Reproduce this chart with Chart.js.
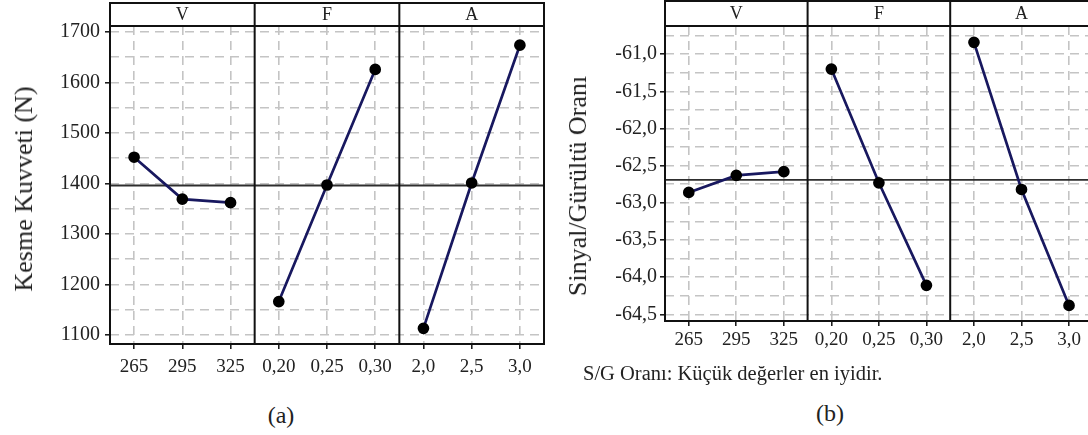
<!DOCTYPE html>
<html>
<head>
<meta charset="utf-8">
<script src="https://cdn.jsdelivr.net/npm/chart.js@4"></script>
<style>
  body { margin: 0; width: 1088px; height: 435px; overflow: hidden; background: #fff; position: relative; font-family: 'Liberation Serif', serif; color: #222; }
  canvas { position: absolute; }
  .ytitle { position: absolute; white-space: nowrap; font-size: 26px; transform: translate(-50%, -50%) rotate(-90deg); }
  .txt { position: absolute; white-space: nowrap; }
  .center { transform: translateX(-50%); }
</style>
</head>
<body>
<canvas id="chartA" width="560" height="390" style="left:0;top:0"></canvas>
<canvas id="chartB" width="540" height="370" style="left:560px;top:0"></canvas>
<div class="ytitle" style="left:24px;top:189px">Kesme Kuvveti (N)</div>
<div class="ytitle" style="left:578px;top:186px">Sinyal/Gürültü Oranı</div>
<div class="txt" style="left:583px;top:362px;font-size:20.5px">S/G Oranı: Küçük değerler en iyidir.</div>
<div class="txt center" style="left:281px;top:402px;font-size:24px">(a)</div>
<div class="txt center" style="left:830px;top:400px;font-size:24px">(b)</div>

<script>
const groups = ['V', 'F', 'A'];
const labelsV = ['265', '295', '325'];
const labelsF = ['0,20', '0,25', '0,30'];
const labelsA = ['2,0', '2,5', '3,0'];

// (a) cutting force means
const forceV = [1452, 1369, 1362];
const forceF = [1166, 1397, 1626];
const forceA = [1113, 1401, 1674];
const forceMean = 1396;
const forceGrid = [1100, 1150, 1200, 1250, 1300, 1350, 1400, 1450, 1500, 1550, 1600, 1650, 1700];

// (b) S/N ratio means
const snV = [-62.86, -62.63, -62.58];
const snF = [-61.20, -62.73, -64.11];
const snA = [-60.84, -62.82, -64.38];
const snMean = -62.69;
const snGrid = [-64.5, -64.25, -64.0, -63.75, -63.5, -63.25, -63.0, -62.75, -62.5, -62.25, -62.0, -61.75, -61.5, -61.25, -61.0, -60.75];

const allLabels = [...labelsV, ...labelsF, ...labelsA];
const FONT = 'Liberation Serif';
const GRID = '#c4c4c4';
const LINE = '#18185f';

// every factor is its own dataset, padded with nulls so lines don't join across panels
const padded = (values, slot) => allLabels.map((_, i) => {
  const k = i - slot * 3;
  return k >= 0 && k < 3 ? values[k] : null;
});

// mean line + panel frame, header strip and dividers
const facetPlugin = {
  id: 'facet',
  beforeDatasetsDraw(chart, args, opts) {
    const { ctx, chartArea: { left, right } } = chart;
    const yPix = chart.scales.y.getPixelForValue(opts.mean);
    ctx.save();
    ctx.strokeStyle = '#2e2e2e';
    ctx.lineWidth = 1.8;
    ctx.beginPath();
    ctx.moveTo(left, yPix);
    ctx.lineTo(right, yPix);
    ctx.stroke();
    ctx.restore();
  },
  afterDraw(chart, args, opts) {
    const { ctx, chartArea: { left, right, top, bottom }, scales: { x } } = chart;
    const per = allLabels.length / groups.length;
    const edges = [left];
    for (let g = 1; g < groups.length; g++) {
      edges.push((x.getPixelForValue(g * per - 1) + x.getPixelForValue(g * per)) / 2);
    }
    edges.push(right);

    ctx.save();
    ctx.fillStyle = '#fff';
    ctx.fillRect(left, opts.headerTop, right - left, top - opts.headerTop);
    ctx.strokeStyle = '#111';
    ctx.lineWidth = 2;
    ctx.strokeRect(left, opts.headerTop, right - left, bottom - opts.headerTop);
    ctx.beginPath();
    ctx.moveTo(left, top);
    ctx.lineTo(right, top);
    for (let g = 1; g < groups.length; g++) {
      ctx.moveTo(edges[g], opts.headerTop);
      ctx.lineTo(edges[g], bottom);
    }
    ctx.stroke();

    ctx.fillStyle = '#222';
    ctx.font = '18px "' + FONT + '"';
    ctx.textAlign = 'center';
    ctx.textBaseline = 'middle';
    groups.forEach((g, i) => {
      ctx.fillText(g, (edges[i] + edges[i + 1]) / 2, (opts.headerTop + top) / 2 + 1);
    });
    ctx.restore();
  }
};

function buildPanel(id, series, mean, cfg) {
  const datasets = series.map((values, slot) => ({
    data: padded(values, slot),
    borderColor: LINE,
    borderWidth: 2.7,
    pointRadius: 4.5,
    pointBackgroundColor: '#000',
    pointBorderColor: '#000',
    spanGaps: false,
    tension: 0
  }));

  return new Chart(document.getElementById(id), {
    type: 'line',
    data: { labels: allLabels, datasets: datasets },
    plugins: [facetPlugin],
    options: {
      responsive: false,
      animation: false,
      events: [],
      layout: { padding: { top: 26, right: cfg.padRight, bottom: 0, left: 0 } },
      plugins: {
        legend: { display: false },
        tooltip: { enabled: false },
        facet: { mean: mean, headerTop: cfg.headerTop }
      },
      scales: {
        x: {
          type: 'category',
          offset: true,
          afterFit: (s) => { s.height = cfg.xHeight; },
          ticks: { autoSkip: false, maxRotation: 0, padding: cfg.xPad, color: '#222', font: { family: FONT, size: 19 } },
          grid: { offset: false, color: GRID, lineWidth: 1.6, tickLength: 5, tickWidth: 1.5, tickColor: '#111' },
          border: { display: false, dash: [9, 6] }
        },
        y: {
          type: 'linear',
          min: cfg.min,
          max: cfg.max,
          bounds: 'data',
          // grid lines at the listed values, labels only on the major ones
          afterBuildTicks: (s) => { s.ticks = cfg.grid.map((v) => ({ value: v })); },
          afterFit: (s) => { s.width = cfg.yWidth; },
          ticks: {
            autoSkip: false,
            padding: cfg.yPad,
            color: '#222',
            font: { family: FONT, size: 20 },
            callback: (v) => cfg.isMajor(v) ? cfg.fmt(v) : ''
          },
          grid: {
            color: GRID,
            lineWidth: 1.6,
            tickLength: 5,
            tickWidth: 1.5,
            tickColor: (c) => (c.tick && cfg.isMajor(c.tick.value)) ? '#111' : 'rgba(0,0,0,0)'
          },
          border: { display: false, dash: [9, 6] }
        }
      }
    }
  });
}

buildPanel('chartA', [forceV, forceF, forceA], forceMean, {
  min: 1082, max: 1712, grid: forceGrid,
  isMajor: (v) => v % 100 === 0,
  fmt: (v) => String(v),
  yWidth: 110, yPad: 5, xHeight: 46, xPad: 7, padRight: 16, headerTop: 3
});

buildPanel('chartB', [snV, snF, snA], snMean, {
  min: -64.59, max: -60.62, grid: snGrid,
  isMajor: (v) => Math.abs(v * 2 - Math.round(v * 2)) < 1e-6,
  fmt: (v) => v.toFixed(1).replace('.', ','),
  yWidth: 105, yPad: 3, xHeight: 49, xPad: 3, padRight: 6, headerTop: 1
});
</script>
</body>
</html>
